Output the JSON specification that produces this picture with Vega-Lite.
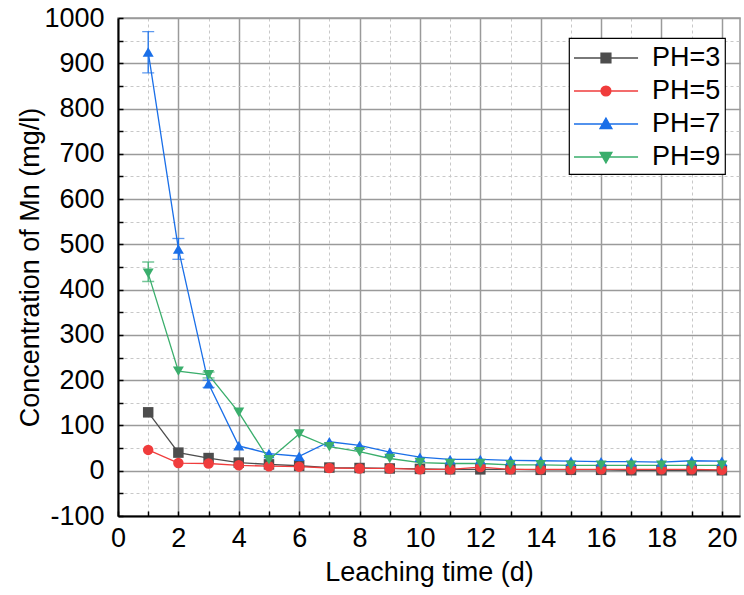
{
  "$schema": "https://vega.github.io/schema/vega-lite/v6.json",
  "autosize": "none",
  "width": 622,
  "height": 498,
  "padding": {"left": 118, "top": 18, "right": 4, "bottom": 79},
  "background": "white",
  "config": {
    "font": "Liberation Sans",
    "view": {"stroke": "#999999", "strokeWidth": 1.5}
  },
  "data": {
    "values": [
      {"day": 1, "val": 129, "lo": 129, "hi": 129, "series": "PH=3"},
      {"day": 2, "val": 40, "lo": 40, "hi": 40, "series": "PH=3"},
      {"day": 3, "val": 28, "lo": 28, "hi": 28, "series": "PH=3"},
      {"day": 4, "val": 18, "lo": 18, "hi": 18, "series": "PH=3"},
      {"day": 5, "val": 14, "lo": 14, "hi": 14, "series": "PH=3"},
      {"day": 6, "val": 11, "lo": 11, "hi": 11, "series": "PH=3"},
      {"day": 7, "val": 7, "lo": 7, "hi": 7, "series": "PH=3"},
      {"day": 8, "val": 6, "lo": 6, "hi": 6, "series": "PH=3"},
      {"day": 9, "val": 5, "lo": 5, "hi": 5, "series": "PH=3"},
      {"day": 10, "val": 4, "lo": 4, "hi": 4, "series": "PH=3"},
      {"day": 11, "val": 3, "lo": 3, "hi": 3, "series": "PH=3"},
      {"day": 12, "val": 3, "lo": 3, "hi": 3, "series": "PH=3"},
      {"day": 13, "val": 3, "lo": 3, "hi": 3, "series": "PH=3"},
      {"day": 14, "val": 2, "lo": 2, "hi": 2, "series": "PH=3"},
      {"day": 15, "val": 2, "lo": 2, "hi": 2, "series": "PH=3"},
      {"day": 16, "val": 2, "lo": 2, "hi": 2, "series": "PH=3"},
      {"day": 17, "val": 1, "lo": 1, "hi": 1, "series": "PH=3"},
      {"day": 18, "val": 1, "lo": 1, "hi": 1, "series": "PH=3"},
      {"day": 19, "val": 1, "lo": 1, "hi": 1, "series": "PH=3"},
      {"day": 20, "val": 1, "lo": 1, "hi": 1, "series": "PH=3"},
      {"day": 1, "val": 46, "lo": 46, "hi": 46, "series": "PH=5"},
      {"day": 2, "val": 17, "lo": 17, "hi": 17, "series": "PH=5"},
      {"day": 3, "val": 16, "lo": 16, "hi": 16, "series": "PH=5"},
      {"day": 4, "val": 12, "lo": 12, "hi": 12, "series": "PH=5"},
      {"day": 5, "val": 10, "lo": 10, "hi": 10, "series": "PH=5"},
      {"day": 6, "val": 9, "lo": 9, "hi": 9, "series": "PH=5"},
      {"day": 7, "val": 6, "lo": 6, "hi": 6, "series": "PH=5"},
      {"day": 8, "val": 5, "lo": 5, "hi": 5, "series": "PH=5"},
      {"day": 9, "val": 5, "lo": 5, "hi": 5, "series": "PH=5"},
      {"day": 10, "val": 3, "lo": 3, "hi": 3, "series": "PH=5"},
      {"day": 11, "val": 3, "lo": 3, "hi": 3, "series": "PH=5"},
      {"day": 12, "val": 8, "lo": 8, "hi": 8, "series": "PH=5"},
      {"day": 13, "val": 3, "lo": 3, "hi": 3, "series": "PH=5"},
      {"day": 14, "val": 3, "lo": 3, "hi": 3, "series": "PH=5"},
      {"day": 15, "val": 3, "lo": 3, "hi": 3, "series": "PH=5"},
      {"day": 16, "val": 3, "lo": 3, "hi": 3, "series": "PH=5"},
      {"day": 17, "val": 3, "lo": 3, "hi": 3, "series": "PH=5"},
      {"day": 18, "val": 3, "lo": 3, "hi": 3, "series": "PH=5"},
      {"day": 19, "val": 3, "lo": 3, "hi": 3, "series": "PH=5"},
      {"day": 20, "val": 2, "lo": 2, "hi": 2, "series": "PH=5"},
      {"day": 1, "val": 925, "lo": 879, "hi": 970, "series": "PH=7"},
      {"day": 2, "val": 490, "lo": 467, "hi": 513, "series": "PH=7"},
      {"day": 3, "val": 192, "lo": 184, "hi": 200, "series": "PH=7"},
      {"day": 4, "val": 55, "lo": 55, "hi": 55, "series": "PH=7"},
      {"day": 5, "val": 38, "lo": 38, "hi": 38, "series": "PH=7"},
      {"day": 6, "val": 32, "lo": 32, "hi": 32, "series": "PH=7"},
      {"day": 7, "val": 64, "lo": 64, "hi": 64, "series": "PH=7"},
      {"day": 8, "val": 56, "lo": 56, "hi": 56, "series": "PH=7"},
      {"day": 9, "val": 41, "lo": 41, "hi": 41, "series": "PH=7"},
      {"day": 10, "val": 30, "lo": 30, "hi": 30, "series": "PH=7"},
      {"day": 11, "val": 25, "lo": 25, "hi": 25, "series": "PH=7"},
      {"day": 12, "val": 25, "lo": 25, "hi": 25, "series": "PH=7"},
      {"day": 13, "val": 23, "lo": 23, "hi": 23, "series": "PH=7"},
      {"day": 14, "val": 22, "lo": 22, "hi": 22, "series": "PH=7"},
      {"day": 15, "val": 21, "lo": 21, "hi": 21, "series": "PH=7"},
      {"day": 16, "val": 20, "lo": 20, "hi": 20, "series": "PH=7"},
      {"day": 17, "val": 20, "lo": 20, "hi": 20, "series": "PH=7"},
      {"day": 18, "val": 19, "lo": 19, "hi": 19, "series": "PH=7"},
      {"day": 19, "val": 22, "lo": 22, "hi": 22, "series": "PH=7"},
      {"day": 20, "val": 21, "lo": 21, "hi": 21, "series": "PH=7"},
      {"day": 1, "val": 436, "lo": 418, "hi": 461, "series": "PH=9"},
      {"day": 2, "val": 220, "lo": 220, "hi": 220, "series": "PH=9"},
      {"day": 3, "val": 212, "lo": 205, "hi": 218, "series": "PH=9"},
      {"day": 4, "val": 129, "lo": 129, "hi": 129, "series": "PH=9"},
      {"day": 5, "val": 24, "lo": 24, "hi": 24, "series": "PH=9"},
      {"day": 6, "val": 81, "lo": 81, "hi": 81, "series": "PH=9"},
      {"day": 7, "val": 53, "lo": 53, "hi": 53, "series": "PH=9"},
      {"day": 8, "val": 42, "lo": 42, "hi": 42, "series": "PH=9"},
      {"day": 9, "val": 27, "lo": 27, "hi": 27, "series": "PH=9"},
      {"day": 10, "val": 18, "lo": 18, "hi": 18, "series": "PH=9"},
      {"day": 11, "val": 16, "lo": 16, "hi": 16, "series": "PH=9"},
      {"day": 12, "val": 16, "lo": 16, "hi": 16, "series": "PH=9"},
      {"day": 13, "val": 13, "lo": 13, "hi": 13, "series": "PH=9"},
      {"day": 14, "val": 13, "lo": 13, "hi": 13, "series": "PH=9"},
      {"day": 15, "val": 12, "lo": 12, "hi": 12, "series": "PH=9"},
      {"day": 16, "val": 12, "lo": 12, "hi": 12, "series": "PH=9"},
      {"day": 17, "val": 12, "lo": 12, "hi": 12, "series": "PH=9"},
      {"day": 18, "val": 12, "lo": 12, "hi": 12, "series": "PH=9"},
      {"day": 19, "val": 12, "lo": 12, "hi": 12, "series": "PH=9"},
      {"day": 20, "val": 12, "lo": 12, "hi": 12, "series": "PH=9"}
    ]
  },
  "encoding": {
    "x": {
      "field": "day", "type": "quantitative",
      "scale": {"domain": [0, 20.6], "nice": false, "zero": false},
      "axis": {
        "title": "Leaching time (d)",
        "values": [0,1,2,3,4,5,6,7,8,9,10,11,12,13,14,15,16,17,18,19,20],
        "labelExpr": "datum.value % 2 === 0 ? toString(datum.value) : ''",
        "labelFontSize": 27, "titleFontSize": 27, "labelColor": "#000", "titleColor": "#000",
        "titleFontWeight": "normal", "titlePadding": 8,
        "labelPadding": 14, "labelFlush": false, "labelOverlap": false,
        "domainColor": "#000", "domainWidth": 2,
        "tickColor": "#000", "tickSize": -5, "tickWidth": 1.5,
        "grid": true,
        "gridColor": {"condition": {"test": "datum.value % 2 !== 0", "value": "#c8c8c8"}, "value": "#9a9a9a"},
        "gridDash": {"condition": {"test": "datum.value % 2 !== 0", "value": [3, 3]}, "value": []},
        "gridWidth": {"condition": {"test": "datum.value % 2 !== 0", "value": 1}, "value": 1.5}
      }
    },
    "y": {
      "field": "val", "type": "quantitative",
      "scale": {"domain": [-100, 1000], "nice": false, "zero": false},
      "axis": {
        "title": "Concentration of Mn (mg/l)",
        "values": [-100,-50,0,50,100,150,200,250,300,350,400,450,500,550,600,650,700,750,800,850,900,950,1000],
        "labelExpr": "datum.value % 100 === 0 ? toString(datum.value) : ''",
        "labelFontSize": 27, "titleFontSize": 27, "labelColor": "#000", "titleColor": "#000",
        "titleFontWeight": "normal", "titlePadding": -1,
        "labelPadding": 19, "labelFlush": false, "labelOverlap": false,
        "domainColor": "#000", "domainWidth": 2,
        "tickColor": "#000", "tickSize": -5, "tickWidth": 1.5,
        "grid": true,
        "gridColor": {"condition": {"test": "datum.value % 100 !== 0", "value": "#c8c8c8"}, "value": "#9a9a9a"},
        "gridDash": {"condition": {"test": "datum.value % 100 !== 0", "value": [3, 3]}, "value": []},
        "gridWidth": {"condition": {"test": "datum.value % 100 !== 0", "value": 1}, "value": 1.5}
      }
    },
    "color": {
      "field": "series", "type": "nominal",
      "scale": {"domain": ["PH=3", "PH=5", "PH=7", "PH=9"], "range": ["#4d4d4d", "#f03c3c", "#1a6fe8", "#3aae6c"]},
      "legend": {
        "orient": "none", "legendX": 451, "legendY": 20,
        "title": null,
        "strokeColor": "#000", "fillColor": "white",
        "padding": 4, "rowPadding": 4,
        "labelFontSize": 27, "labelColor": "#000", "labelOffset": 47,
        "symbolSize": 900,
        "encode": {
          "legend": {"update": {"strokeWidth": {"value": 1.2}}},
          "symbols": {
            "update": {
              "shape": {"signal": "datum.value === 'PH=3' ? 'M-1,0H3.27M0.8,-0.33H1.46V0.33H0.8Z' : datum.value === 'PH=5' ? 'M-1,0H3.27M0.8,0A0.33,0.33 0 1,0 1.46,0A0.33,0.33 0 1,0 0.8,0Z' : datum.value === 'PH=7' ? 'M-1,0H3.27M1.13,-0.4L1.53,0.3H0.73Z' : 'M-1,0H3.27M1.13,0.4L1.53,-0.3H0.73Z'"},
              "fill": {"signal": "scale('color', datum.value)"},
              "stroke": {"signal": "scale('color', datum.value)"},
              "strokeWidth": {"value": 1.3},
              "opacity": {"value": 1},
              "fillOpacity": {"value": 1}
            }
          }
        }
      }
    }
  },
  "layer": [
    {
      "transform": [{"filter": "datum.hi > datum.lo"}],
      "mark": {"type": "rule", "strokeWidth": 1.3},
      "encoding": {"y": {"field": "lo", "type": "quantitative"}, "y2": {"field": "hi"}}
    },
    {
      "transform": [{"filter": "datum.hi > datum.lo"}],
      "mark": {"type": "tick", "orient": "horizontal", "size": 12, "thickness": 1.3},
      "encoding": {"y": {"field": "lo", "type": "quantitative"}}
    },
    {
      "transform": [{"filter": "datum.hi > datum.lo"}],
      "mark": {"type": "tick", "orient": "horizontal", "size": 12, "thickness": 1.3},
      "encoding": {"y": {"field": "hi", "type": "quantitative"}}
    },
    {
      "mark": {"type": "line", "strokeWidth": 1.3},
      "encoding": {"detail": {"field": "series"}}
    },
    {
      "transform": [{"filter": "datum.series === 'PH=3'"}],
      "mark": {"type": "point", "shape": "square", "filled": true, "size": 110, "opacity": 1}
    },
    {
      "transform": [{"filter": "datum.series === 'PH=5'"}],
      "mark": {"type": "point", "shape": "circle", "filled": true, "size": 110, "opacity": 1}
    },
    {
      "transform": [{"filter": "datum.series === 'PH=7'"}],
      "mark": {"type": "point", "shape": "triangle-up", "filled": true, "size": 120, "opacity": 1}
    },
    {
      "transform": [{"filter": "datum.series === 'PH=9'"}],
      "mark": {"type": "point", "shape": "triangle-down", "filled": true, "size": 120, "opacity": 1}
    }
  ]
}
